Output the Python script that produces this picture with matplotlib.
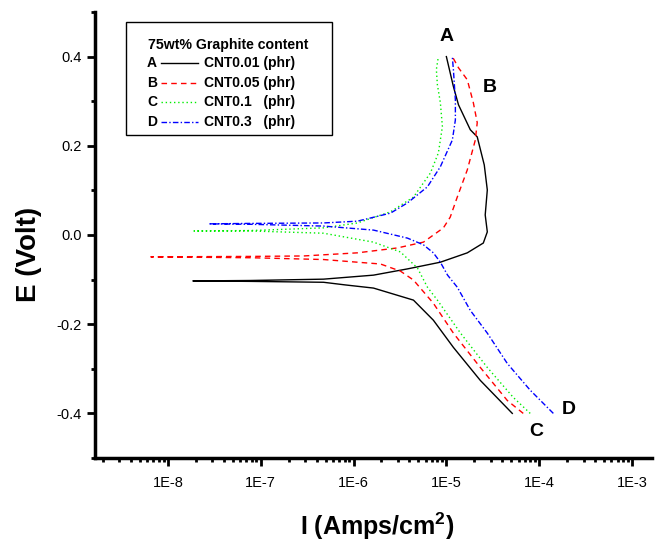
import math
import matplotlib
matplotlib.use("Agg")
import matplotlib.pyplot as plt
from matplotlib.ticker import FuncFormatter, FixedLocator, LogLocator, MultipleLocator, NullFormatter
from matplotlib.patches import Rectangle
from matplotlib.lines import Line2D

plt.rcParams['font.family'] = ['Liberation Sans', 'DejaVu Sans']
plt.rcParams['mathtext.fontset'] = 'custom'
plt.rcParams['mathtext.rm'] = 'Liberation Sans'
plt.rcParams['mathtext.bf'] = 'Liberation Sans:bold'

# Tafel curves: potential E (V) and current density I (A/cm2),
# read from cathodic end -> corrosion potential -> anodic end
E_A = [-0.400, -0.326, -0.252, -0.191, -0.146, -0.119, -0.112, -0.106, -0.104, -0.103,
       -0.102, -0.099, -0.090, -0.076, -0.061, -0.040, -0.018, 0.007, 0.045,
       0.101, 0.157, 0.220, 0.236, 0.292, 0.333, 0.400]
I_A = [5.13e-5, 2.32e-5, 1.19e-5, 7.24e-6, 4.42e-6, 1.64e-6, 8.20e-7, 4.75e-7, 7.80e-8, 1.86e-8,
       7.80e-8, 4.75e-7, 1.64e-6, 3.81e-6, 8.61e-6, 1.68e-5, 2.50e-5, 2.76e-5, 2.62e-5,
       2.76e-5, 2.56e-5, 2.15e-5, 1.81e-5, 1.35e-5, 1.19e-5, 1.00e-5]

E_B = [-0.400, -0.371, -0.297, -0.220, -0.153, -0.101, -0.081, -0.065, -0.061,
       -0.055, -0.051, -0.049, -0.048, -0.047, -0.040, -0.029, -0.016, 0.016,
       0.040, 0.085, 0.146, 0.213, 0.252, 0.297, 0.348, 0.375, 0.400]
I_B = [6.73e-5, 4.53e-5, 2.32e-5, 1.19e-5, 7.24e-6, 4.42e-6, 3.20e-6, 1.95e-6, 1.10e-6,
       4.75e-7, 7.80e-8, 6.56e-9, 7.80e-8, 2.90e-7, 1.10e-6, 2.97e-6, 5.66e-6, 9.29e-6,
       1.10e-5, 1.31e-5, 1.68e-5, 2.05e-5, 2.15e-5, 1.95e-5, 1.68e-5, 1.35e-5, 1.16e-5]

E_C = [-0.400, -0.364, -0.297, -0.220, -0.146, -0.117, -0.074, -0.038, -0.016,
       0.004, 0.009, 0.009, 0.010, 0.016, 0.027, 0.052, 0.085, 0.139,
       0.184, 0.243, 0.297, 0.337, 0.371, 0.400]
I_C = [8.00e-5, 5.25e-5, 2.76e-5, 1.42e-5, 8.00e-6, 6.25e-6, 4.88e-6, 3.20e-6, 1.64e-6,
       4.75e-7, 7.80e-8, 1.91e-8, 7.80e-8, 4.75e-7, 1.10e-6, 2.50e-6, 4.42e-6, 6.73e-6,
       8.20e-6, 9.06e-6, 8.61e-6, 8.00e-6, 7.80e-6, 8.20e-6]

E_D = [-0.400, -0.348, -0.288, -0.220, -0.169, -0.117, -0.090, -0.061, -0.040,
       -0.022, -0.007, 0.011, 0.020, 0.024, 0.025, 0.026, 0.027, 0.031,
       0.049, 0.072, 0.108, 0.153, 0.213, 0.258, 0.303, 0.371, 0.398]
I_D = [1.42e-4, 8.00e-5, 4.53e-5, 2.76e-5, 1.81e-5, 1.31e-5, 1.03e-5, 8.61e-6, 7.24e-6,
       5.66e-6, 3.81e-6, 1.64e-6, 4.75e-7, 7.80e-8, 2.76e-8, 7.80e-8, 4.75e-7, 1.10e-6,
       2.50e-6, 3.81e-6, 6.25e-6, 8.61e-6, 1.16e-5, 1.25e-5, 1.25e-5, 1.19e-5, 1.16e-5]

letters = ['A', 'B', 'C', 'D']
samples = ['CNT0.01 (phr)', 'CNT0.05 (phr)', 'CNT0.1   (phr)', 'CNT0.3   (phr)']
legend_title = '75wt% Graphite content'
x_ticks = [1e-8, 1e-7, 1e-6, 1e-5, 1e-4, 1e-3]

curves = [(I_A, E_A), (I_B, E_B), (I_C, E_C), (I_D, E_D)]
colors = ['black', '#ff0000', '#00ee00', '#0000ff']
styles = ['-', (0, (4, 3)), (0, (1, 2)), (0, (4, 1.6, 1, 1.6))]

# where the curve letters sit (I, E)
letter_pos = [(1.0e-5, 0.445), (2.9e-5, 0.330), (9.2e-5, -0.440), (2.1e-4, -0.392)]

fig = plt.figure(figsize=(6.61, 5.43), dpi=100)
ax = fig.add_axes([95 / 661, 1 - 458 / 543, 557 / 661, 446 / 543])

for (I, E), c, ls in zip(curves, colors, styles):
    ax.plot(I, E, color=c, linestyle=ls, linewidth=1.0)

for (xi, yi), t in zip(letter_pos, letters):
    ax.text(xi, yi, t, fontsize=14, fontweight='bold', ha='center', va='center')

ax.set_xscale('log')
ax.set_xlim(10 ** -8.785, 10 ** -2.785)
ax.set_ylim(-0.5, 0.5)

ax.xaxis.set_major_locator(FixedLocator(x_ticks))
ax.xaxis.set_minor_locator(LogLocator(base=10, subs=range(2, 10), numticks=20))
ax.xaxis.set_minor_formatter(NullFormatter())
ax.xaxis.set_major_formatter(FuncFormatter(lambda v, p: '1E%d' % round(math.log10(v))))
ax.yaxis.set_major_locator(MultipleLocator(0.2))
ax.yaxis.set_minor_locator(MultipleLocator(0.1))
ax.yaxis.set_major_formatter(FuncFormatter(lambda v, p: '%.1f' % v if abs(v) > 1e-9 else '0.0'))

for s in ['top', 'right']:
    ax.spines[s].set_visible(False)
for s in ['left', 'bottom']:
    ax.spines[s].set_linewidth(2.5)
ax.tick_params(which='major', direction='out', length=6, width=2, labelsize=10.5)
ax.tick_params(axis='x', which='major', pad=7)
ax.tick_params(which='minor', direction='out', length=3, width=2)

fig.text(29 / 661, 1 - 254 / 543, 'E (Volt)', rotation=90, fontsize=20,
         fontweight='bold', ha='center', va='center')
fig.text(377 / 661, 1 - 526 / 543, r'I (Amps/cm$^\mathbf{2}$)', fontsize=18,
         fontweight='bold', ha='center', va='center')

# legend box drawn by hand
def fx(x):
    return x / 661

def fy(y):
    return 1 - y / 543

fig.patches.append(Rectangle((fx(126), fy(135)), fx(332) - fx(126), fy(22) - fy(135),
                             transform=fig.transFigure, fill=False, edgecolor='black',
                             linewidth=1.0))
fig.text(fx(148), fy(45), legend_title, fontsize=10.2, fontweight='bold', va='center')
for k in range(4):
    yy = 63 + k * 19.7
    fig.text(fx(147), fy(yy), letters[k], fontsize=10, fontweight='bold', va='center')
    fig.lines.append(Line2D([fx(161), fx(198)], [fy(yy), fy(yy)], transform=fig.transFigure,
                            color=colors[k], linestyle=styles[k], linewidth=1.0))
    fig.text(fx(204), fy(yy), samples[k], fontsize=10, fontweight='bold', va='center')

fig.savefig('out.png', dpi=100)
